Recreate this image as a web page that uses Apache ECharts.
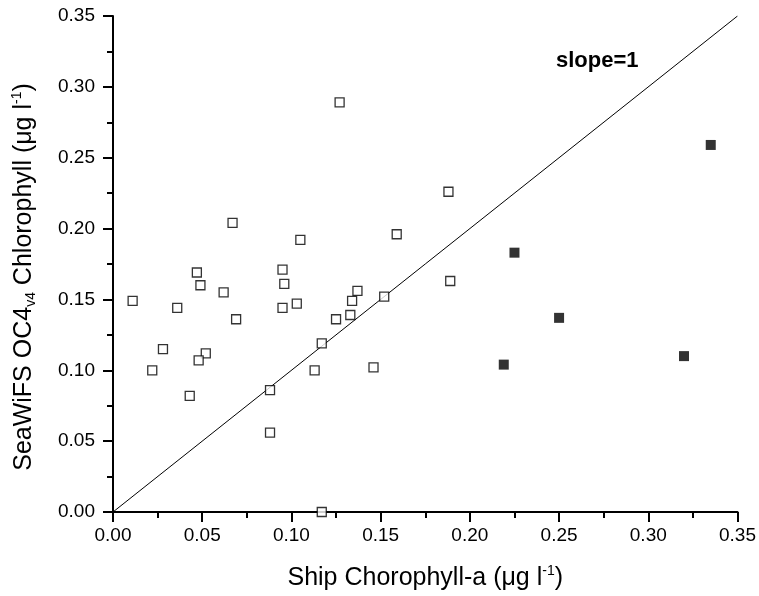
<!DOCTYPE html>
<html>
<head>
<meta charset="utf-8">
<script src="https://cdn.jsdelivr.net/npm/echarts@6/dist/echarts.min.js"></script>
<style>html,body{margin:0;padding:0;background:#fff}#c{width:759px;height:596px}</style>
</head>
<body>
<div id="c"></div>
<script>
// Ship chlorophyll (x) vs SeaWiFS OC4v4 chlorophyll (y)
const openX = [0.011, 0.047, 0.049, 0.036, 0.062, 0.069, 0.028, 0.022, 0.052, 0.048, 0.043,
  0.095, 0.096, 0.095, 0.103, 0.088, 0.088, 0.117, 0.113, 0.125, 0.133, 0.134, 0.137,
  0.152, 0.146, 0.117, 0.127, 0.067, 0.105, 0.159, 0.188, 0.189];
const openY = [0.149, 0.169, 0.160, 0.144, 0.155, 0.136, 0.115, 0.100, 0.112, 0.107, 0.082,
  0.171, 0.161, 0.144, 0.147, 0.086, 0.056, 0.119, 0.100, 0.136, 0.139, 0.149, 0.156,
  0.152, 0.102, 0.000, 0.289, 0.204, 0.192, 0.196, 0.226, 0.163];
const filledX = [0.225, 0.335, 0.250, 0.219, 0.320];
const filledY = [0.183, 0.259, 0.137, 0.104, 0.110];
const oneToOne = [[0, 0], [0.35, 0.35]];
const axisTicks = [0.00, 0.05, 0.10, 0.15, 0.20, 0.25, 0.30, 0.35];
const lineLabel = 'slope=1';

const FONT = '"Liberation Sans", Arial, sans-serif';
const chart = echarts.init(document.getElementById('c'), null, {renderer: 'canvas'});

function zip(a, b) { return a.map((v, i) => [v, b[i]]); }

const axisCommon = {
  type: 'value',
  min: axisTicks[0],
  max: axisTicks[axisTicks.length - 1],
  interval: axisTicks[1] - axisTicks[0],
  splitLine: {show: false},
  axisLine: {show: true, onZero: false, lineStyle: {color: '#000', width: 2}},
  axisTick: {show: true, inside: false, length: 10, lineStyle: {color: '#000', width: 2}},
  minorTick: {show: true, splitNumber: 2, length: 6, lineStyle: {color: '#000', width: 2}},
  axisLabel: {color: '#000', fontFamily: FONT, fontSize: 19, formatter: v => v.toFixed(2)}
};

const titleRich = {
  t: {fontFamily: FONT, fontSize: 25, color: '#000', lineHeight: 28},
  sub: {fontFamily: FONT, fontSize: 14, color: '#000', lineHeight: 12, verticalAlign: 'bottom'},
  sup: {fontFamily: FONT, fontSize: 14, color: '#000', lineHeight: 12, verticalAlign: 'top'}
};

chart.setOption({
  backgroundColor: '#fff',
  animation: false,
  grid: {left: 113, right: 21, top: 16, bottom: 84, containLabel: false},
  xAxis: Object.assign({}, axisCommon, {
    axisLabel: Object.assign({}, axisCommon.axisLabel, {margin: 14}),
    name: '{t|Ship Chorophyll-a (μg l}{sup|-1}{t|)}',
    nameLocation: 'middle',
    nameGap: 52,
    nameTextStyle: {rich: titleRich}
  }),
  yAxis: Object.assign({}, axisCommon, {
    axisLabel: Object.assign({}, axisCommon.axisLabel, {margin: 18}),
    name: '{t|SeaWiFS OC4}{sub|v4}{t| Chlorophyll (μg l}{sup|-1}{t|)}',
    nameLocation: 'middle',
    nameGap: 75,
    nameRotate: 90,
    nameTextStyle: {rich: titleRich, padding: [0, 26, 0, 0]}
  }),
  series: [
    {
      type: 'line',
      data: oneToOne,
      symbol: 'none',
      lineStyle: {color: '#000', width: 1},
      silent: true,
      z: 1
    },
    {
      type: 'scatter',
      data: zip(openX, openY),
      symbol: 'rect',
      symbolSize: 9,
      itemStyle: {color: '#fff', borderColor: '#000', borderWidth: 1.3},
      z: 3
    },
    {
      type: 'scatter',
      data: zip(filledX, filledY),
      symbol: 'rect',
      symbolSize: 10,
      itemStyle: {color: '#000'},
      z: 3
    }
  ],
  graphic: [{
    type: 'text',
    left: 556,
    top: 50,
    style: {text: lineLabel, font: 'bold 22px ' + FONT, fill: '#000'}
  }]
});
</script>
</body>
</html>
